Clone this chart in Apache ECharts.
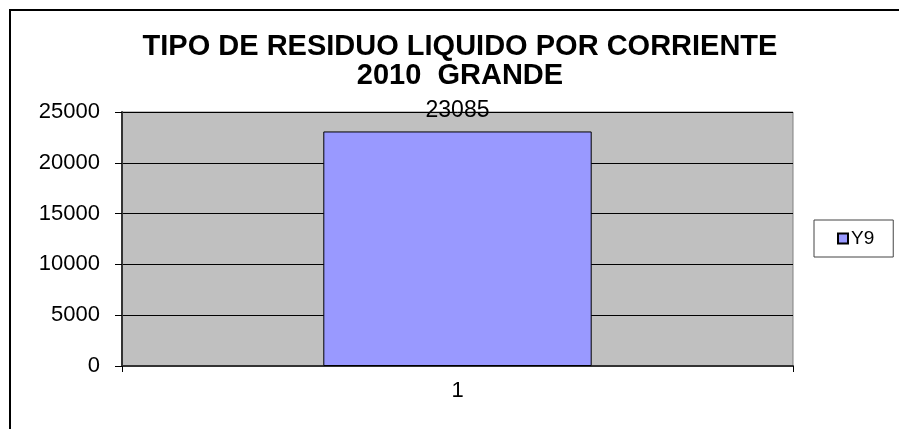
<!DOCTYPE html>
<html>
<head>
<meta charset="utf-8">
<script src="https://cdn.jsdelivr.net/npm/echarts@6/dist/echarts.min.js"></script>
<style>
  html, body { margin: 0; padding: 0; background: #fff; }
  #frame { position: absolute; left: 9px; top: 9px; width: 890px; height: 420px;
           border-left: 2px solid #000; border-top: 2px solid #000; }
  #main { position: absolute; left: 0; top: 0; width: 899px; height: 429px; }
</style>
</head>
<body>
<div id="frame"></div>
<div id="main"></div>
<script>
  // datos del grafico
  var categories = ['1'];
  var seriesName = 'Y9';
  var values = [23085];

  var myChart = echarts.init(document.getElementById('main'));
  var font = 'Arial, "Liberation Sans", sans-serif';

  var option = {
    animation: false,
    title: {
      text: 'TIPO DE RESIDUO LIQUIDO POR CORRIENTE\n2010  GRANDE',
      left: 455,
      textAlign: 'center',
      top: 27,
      textStyle: { fontFamily: font, fontSize: 29, fontWeight: 'bold', color: '#000', lineHeight: 29 }
    },
    legend: {
      data: [seriesName],
      left: 814,
      top: 220,
      orient: 'vertical',
      padding: [9, 19, 9, 23],
      borderColor: '#444',
      borderWidth: 1,
      backgroundColor: '#fff',
      icon: 'rect',
      itemWidth: 10,
      itemHeight: 10,
      itemGap: 4,
      textStyle: { fontFamily: font, fontSize: 19, color: '#000', padding: [0, 0, 0, -2] }
    },
    grid: {
      left: 122, top: 112, width: 671, height: 254,
      show: true,
      backgroundColor: '#C0C0C0',
      borderColor: '#808080',
      borderWidth: 1
    },
    xAxis: {
      type: 'category',
      data: categories,
      axisLine: { lineStyle: { color: '#333', width: 2 } },
      axisTick: { show: true, length: 6, lineStyle: { color: '#000' } },
      axisLabel: { fontFamily: font, fontSize: 22, color: '#000', margin: 14 }
    },
    yAxis: {
      type: 'value',
      min: 0,
      max: 25000,
      interval: 5000,
      axisLine: { show: true, lineStyle: { color: '#333', width: 2 } },
      axisTick: { show: true, length: 7, lineStyle: { color: '#000' } },
      splitLine: { lineStyle: { color: '#000', width: 1 } },
      axisLabel: {
        fontFamily: font, fontSize: 22, color: '#000', margin: 22,
        formatter: function (v) { return String(v); }
      }
    },
    series: [{
      name: seriesName,
      type: 'bar',
      data: values,
      barWidth: '40%',
      itemStyle: { color: '#9999FF', borderColor: '#000', borderWidth: 1 },
      label: {
        show: true,
        position: 'top',
        distance: 9,
        fontFamily: font,
        fontSize: 23,
        color: '#000'
      }
    }]
  };

  myChart.setOption(option);
</script>
</body>
</html>
